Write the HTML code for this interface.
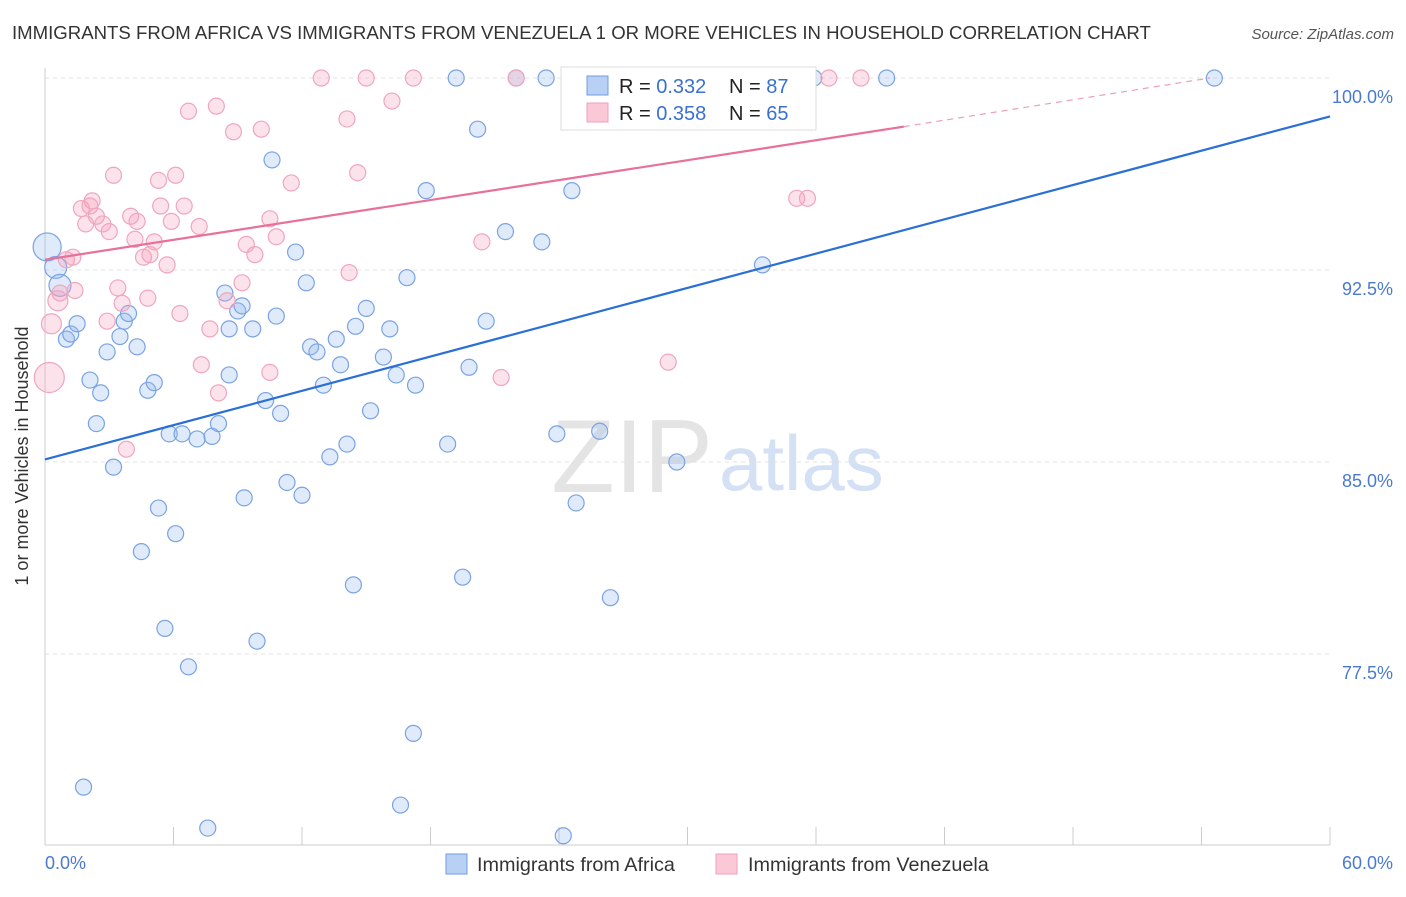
<!DOCTYPE html>
<html><head><meta charset="utf-8"><style>
body{margin:0;background:#fff;font-family:"Liberation Sans",sans-serif;}
svg text{font-family:"Liberation Sans",sans-serif;}
</style></head><body>
<svg id="chart" width="1406" height="892">
<text x="12" y="39" font-size="18.6" fill="#333">IMMIGRANTS FROM AFRICA VS IMMIGRANTS FROM VENEZUELA 1 OR MORE VEHICLES IN HOUSEHOLD CORRELATION CHART</text>
<text x="1394" y="39" font-size="15" fill="#555" text-anchor="end" font-style="italic">Source: ZipAtlas.com</text>
<text x="713" y="492" font-size="104" fill="#e4e4e4" text-anchor="end" font-family="Liberation Serif">ZIP</text>
<text x="719" y="490" font-size="78" fill="#d4e0f4">atlas</text>
<text x="28" y="456" font-size="18" fill="#333" text-anchor="middle" transform="rotate(-90 28 456)">1 or more Vehicles in Household</text>
<g id="grid"></g><g id="pts"></g><g id="lines"></g>
<g>
<rect x="561" y="67" width="255" height="63" fill="#fff" stroke="#ddd"/>
<rect x="587" y="76" width="21" height="19" fill="#b8d0f4" stroke="#6f9de0"/>
<rect x="587" y="103" width="21" height="19" fill="#fac8d6" stroke="#f0a0b8"/>
<text x="619" y="93" font-size="20" fill="#222">R = <tspan fill="#3a70d0">0.332</tspan></text>
<text x="729" y="93" font-size="20" fill="#222">N = <tspan fill="#3a70d0">87</tspan></text>
<text x="619" y="120" font-size="20" fill="#222">R = <tspan fill="#3a70d0">0.358</tspan></text>
<text x="729" y="120" font-size="20" fill="#222">N = <tspan fill="#3a70d0">65</tspan></text>
</g>
<g>
<rect x="446" y="854" width="21" height="20" fill="#b8d0f4" stroke="#6f9de0"/>
<text x="477" y="871" font-size="19.8" fill="#333">Immigrants from Africa</text>
<rect x="716" y="854" width="21" height="20" fill="#fac8d6" stroke="#f0a0b8"/>
<text x="748" y="871" font-size="19.8" fill="#333">Immigrants from Venezuela</text>
</g>
</svg>
<script>
const yTicks=[100,92.5,85,77.5];
const yTickLabels=["100.0%","92.5%","85.0%","77.5%"];
const xLabels=["0.0%","60.0%"];
const africaX=[0.1,0.5,0.7,1.0,1.2,1.5,2.1,2.4,2.6,2.9,3.2,3.5,3.7,3.9,4.3,4.5,4.8,5.1,5.3,5.6,5.8,6.1,6.4,6.7,7.1,7.6,7.8,8.1,8.4,8.6,8.6,9.0,9.2,9.3,9.7,9.9,10.3,10.6,10.8,11.0,11.3,11.7,12.0,12.2,12.4,12.7,13.0,13.3,13.6,13.8,14.1,14.4,14.5,15.0,15.2,15.8,16.1,16.4,16.6,16.9,17.2,17.3,17.8,18.8,19.2,19.5,19.8,20.2,20.6,21.5,22.0,23.2,23.4,23.9,24.2,24.6,24.8,25.9,26.4,29.5,33.0,33.5,35.9,39.3,54.6,1.8];
const africaY=[93.4,92.6,91.9,89.8,90.0,90.4,88.2,86.5,87.7,89.3,84.8,89.9,90.5,90.8,89.5,81.5,87.8,88.1,83.2,78.5,86.1,82.2,86.1,77.0,85.9,70.7,86.0,86.5,91.6,90.2,88.4,90.9,91.1,83.6,90.2,78.0,87.4,96.8,90.7,86.9,84.2,93.2,83.7,92.0,89.5,89.3,88.0,85.2,89.8,88.8,85.7,80.2,90.3,91.0,87.0,89.1,90.2,88.4,71.6,92.2,74.4,88.0,95.6,85.7,100,80.5,88.7,98.0,90.5,94.0,100,93.6,100,86.1,70.4,95.6,83.4,86.2,79.7,85.0,100,92.7,100,100,100,72.3];
const venX=[0.2,0.3,0.6,0.7,1.0,1.3,1.4,1.7,1.9,2.1,2.2,2.4,2.7,2.9,3.0,3.2,3.4,3.6,3.8,4.0,4.2,4.3,4.6,4.8,4.9,5.1,5.3,5.4,5.7,5.9,6.1,6.3,6.5,6.7,7.2,7.3,7.7,8.0,8.1,8.5,8.8,9.2,9.4,9.8,10.1,10.5,10.5,10.8,11.5,12.9,14.1,14.2,14.6,15.0,16.2,17.2,20.4,21.3,22.0,29.1,35.1,35.6,36.6,38.1];
const venY=[88.3,90.4,91.3,91.6,92.9,93.0,91.7,94.9,94.3,95.0,95.2,94.6,94.3,90.5,94.0,96.2,91.8,91.2,85.5,94.6,93.7,94.4,93.0,91.4,93.1,93.6,96.0,95.0,92.7,94.4,96.2,90.8,95.0,98.7,94.2,88.8,90.2,98.9,87.7,91.3,97.9,92.0,93.5,93.1,98.0,88.5,94.5,93.8,95.9,100,98.4,92.4,96.3,100,99.1,100,93.6,88.3,100,88.9,95.3,95.3,100,100];
const africaTrend=[85.1,98.5];
const venTrend=[92.9,98.1,100];
const venTrendX=[0,40.1,54.4];
const NS="http://www.w3.org/2000/svg";
const X=v=>45+v/60*1285, Y=v=>78+(100-v)*25.6;
function mk(t,a,p){const e=document.createElementNS(NS,t);for(const k in a)e.setAttribute(k,a[k]);p.appendChild(e);return e;}
const grid=document.getElementById('grid');
yTicks.forEach((t,i)=>{
 const l=mk('line',{x1:45,x2:1330,y1:Y(t),y2:Y(t),stroke:'#e2e2e2','stroke-dasharray':'4 4'},grid);
 
 
 const tx=mk('text',{x:1393,y:Y(t)+25,'font-size':18,fill:'#4a7ad0','text-anchor':'end'},grid);tx.textContent=yTickLabels[i];
 
 
});
mk('line',{x1:45,x2:45,y1:68,y2:845,stroke:'#ccc'},grid);
mk('line',{x1:45,x2:1330,y1:845,y2:845,stroke:'#ccc'},grid);
for(let i=0;i<=10;i++){const t=mk('line',{x1:X(i*6),x2:X(i*6),y1:827,y2:845,stroke:'#ccc'},grid);
 
 }
const xl0=mk('text',{x:45,y:869,'font-size':18,fill:'#4a7ad0'},grid);xl0.textContent=xLabels[0];


const xl1=mk('text',{x:1393,y:869,'font-size':18,fill:'#4a7ad0','text-anchor':'end'},grid);xl1.textContent=xLabels[1];


const pts=document.getElementById('pts');
africaX.forEach((x,i)=>{const c=mk('circle',{cx:X(x),cy:Y(africaY[i]),r:i<3?(i==0?14:11):8,fill:'rgba(150,185,240,0.3)',stroke:'#7aa3e2','stroke-width':1.2},pts);
 
 });
venX.forEach((x,i)=>{const c=mk('circle',{cx:X(x),cy:Y(venY[i]),r:i==0?15:(i<3?10:8),fill:'rgba(245,160,185,0.3)',stroke:'#f0a6bd','stroke-width':1.2},pts);
 
 });
const lines=document.getElementById('lines');
const bl=mk('line',{x1:X(0),y1:Y(africaTrend[0]),x2:X(60),y2:Y(africaTrend[1]),stroke:'#2a6fd6','stroke-width':2.2},lines);


const pl=mk('line',{x1:X(venTrendX[0]),y1:Y(venTrend[0]),x2:X(venTrendX[1]),y2:Y(venTrend[1]),stroke:'#e8709a','stroke-width':2.2},lines);


const pd=mk('line',{x1:X(venTrendX[1]),y1:Y(venTrend[1]),x2:X(venTrendX[2]),y2:Y(venTrend[2]),stroke:'#e8a0b8','stroke-width':1.2,'stroke-dasharray':'6 5'},lines);


</script>
</body></html>
